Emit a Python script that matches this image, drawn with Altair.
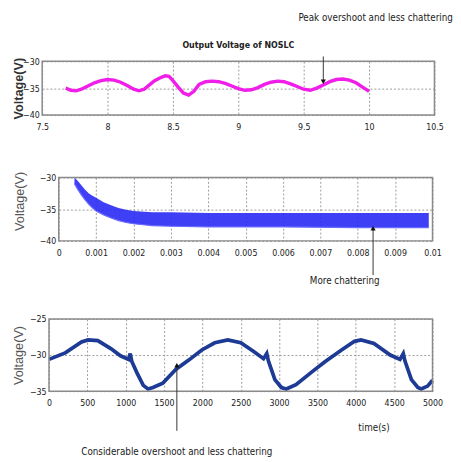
import altair as alt
import pandas as pd

FONT_N = "Liberation Sans Narrow, Arial Narrow, DejaVu Sans Condensed, sans-serif"
FONT_R = "Liberation Sans, Arial, sans-serif"

# ---------------- Panel 1: Output Voltage of NOSLC ----------------
p1_t = [7.68, 7.72, 7.76, 7.80, 7.85, 7.90, 7.95, 8.00, 8.05, 8.10, 8.15, 8.20, 8.24,
        8.28, 8.32, 8.36, 8.40, 8.44, 8.47, 8.50, 8.54, 8.58, 8.62, 8.66, 8.70, 8.75,
        8.80, 8.85, 8.90, 8.95, 9.00, 9.05, 9.10, 9.15, 9.20, 9.25, 9.30, 9.35, 9.40,
        9.45, 9.50, 9.55, 9.60, 9.65, 9.70, 9.75, 9.80, 9.85, 9.90, 9.95, 10.0]
p1_v = [-35.0, -35.4, -35.5, -35.2, -34.6, -34.0, -33.6, -33.4, -33.5, -33.9, -34.5,
        -35.2, -35.5, -35.2, -34.4, -33.6, -33.1, -32.7, -32.8, -33.6, -34.8, -35.9,
        -36.3, -35.6, -34.3, -33.8, -33.7, -33.8, -34.1, -34.6, -35.1, -35.4, -35.3,
        -34.9, -34.3, -33.9, -33.7, -33.8, -34.2, -34.7, -35.2, -35.4, -35.0, -34.4,
        -33.8, -33.4, -33.3, -33.5, -34.0, -34.8, -35.6]
p1_xdom, p1_ydom = [7.5, 10.5], [-40, -30]
p1_xticks = [7.5, 8, 8.5, 9, 9.5, 10, 10.5]
p1_yticks = [-40, -35, -30]
p1_title = ["Output Voltage of NOSLC"]
p1_title_t, p1_title_v = [9.0], [-26.9]
p1_note = ["Peak overshoot and less chattering"]
p1_note_t, p1_note_v = [10.05], [-22.0]
p1_arrow_t, p1_arrow_v1, p1_arrow_v2 = [9.65], [-29.1], [-33.8]

# ---------------- Panel 2: chattering band (envelope) ----------------
p2_t = [0.00042, 0.0005, 0.0006, 0.0007, 0.0008, 0.0009, 0.001, 0.0012, 0.0014, 0.0016,
        0.0018, 0.002, 0.0025, 0.003, 0.004, 0.006, 0.008, 0.0099]
p2_upper = [-30.0, -30.5, -31.2, -31.9, -32.5, -32.9, -33.2, -33.9, -34.4, -34.8, -35.1,
            -35.3, -35.5, -35.5, -35.6, -35.6, -35.6, -35.6]
p2_lower = [-31.0, -31.8, -32.7, -33.5, -34.2, -34.8, -35.3, -35.9, -36.4, -36.8, -37.1,
            -37.3, -37.6, -37.7, -37.8, -37.8, -37.9, -37.9]
p2_xdom, p2_ydom = [0, 0.01], [-40, -30]
p2_xticks = [0, 0.001, 0.002, 0.003, 0.004, 0.005, 0.006, 0.007, 0.008, 0.009, 0.01]
p2_yticks = [-40, -35, -30]
p2_note = ["More chattering"]
p2_note_t, p2_note_v = [0.00765], [-46.3]
p2_arrow_t, p2_arrow_v1, p2_arrow_v2 = [0.00841], [-45.4], [-38.0]

# ---------------- Panel 3 ----------------
p3_t = [0, 212, 424, 509, 636, 806, 932, 1038, 1059, 1080, 1144, 1229, 1292, 1356, 1483,
        1653, 1822, 1992, 2161, 2331, 2500, 2669, 2797, 2839, 2860, 2945, 3030, 3093,
        3220, 3432, 3602, 3814, 3983, 4068, 4237, 4449, 4576, 4619, 4640, 4725, 4809,
        4852, 4936, 5000]
p3_v = [-30.6, -29.7, -28.2, -27.9, -28.0, -29.1, -30.1, -30.6, -29.8, -30.9, -32.4,
        -34.2, -34.7, -34.5, -33.9, -32.0, -30.7, -29.3, -28.3, -27.9, -28.3, -29.5,
        -30.5, -29.8, -30.8, -33.4, -34.5, -34.7, -34.1, -32.3, -30.9, -29.3, -28.1,
        -27.9, -28.4, -30.0, -30.6, -29.8, -30.8, -33.4, -34.5, -34.7, -34.3, -33.5]
p3_xdom, p3_ydom = [0, 5000], [-35, -25]
p3_xticks = [0, 500, 1000, 1500, 2000, 2500, 3000, 3500, 4000, 4500, 5000]
p3_yticks = [-35, -30, -25]
p3_note = ["Considerable overshoot and less chattering"]
p3_note_t, p3_note_v = [1667], [-43.5]
p3_xlabel = ["time(s)"]
p3_xlabel_t, p3_xlabel_v = [4237], [-40.1]
p3_arrow_t, p3_arrow_v1, p3_arrow_v2 = [1667], [-40.5], [-31.4]

GRID = "#9a9a9a"
FRAME = "#8a8a8a"


def xaxis(values, fmt):
    return alt.Axis(values=values, tickCount=len(values), format=fmt, title=None,
                    ticks=False, domain=False,
                    labelFont=FONT_N, labelFontSize=9, labelColor="#222",
                    labelPadding=8, grid=True, gridDash=[2, 2], gridColor=GRID,
                    labelFlush=False, labelOverlap=False)


def yaxis(values, title, tx, bold, color, ty=None, offset=0):
    kw = dict(values=values, tickCount=len(values), title=title, ticks=False,
              domain=False,
              labelFont=FONT_N, labelFontSize=9, labelColor="#222", labelPadding=3,
              grid=True, gridDash=[2, 2], gridColor=GRID,
              titleFont=FONT_R, titleFontSize=13,
              titleFontWeight="bold" if bold else "normal", titleColor=color,
              titleX=tx, titleBaseline="middle", titleAngle=270, labelFlush=False,
              labelOverlap=False, offset=offset)
    if ty is not None:
        kw["titleY"] = ty
    return alt.Axis(**kw)


def annot(t, v, text, size=10, color="#222", weight="normal"):
    df = pd.DataFrame({"t": t, "v": v, "label": text})
    return alt.Chart(df).mark_text(font=FONT_N, fontSize=size, color=color,
                                   fontWeight=weight).encode(
        x="t:Q", y="v:Q", text="label:N")


def arrow(t, v1, v2, head):
    df = pd.DataFrame({"t": t, "v": v1, "v2": v2})
    rule = alt.Chart(df).mark_rule(color="#333", strokeWidth=1).encode(
        x="t:Q", y="v:Q", y2="v2:Q")
    tip = alt.Chart(df).mark_point(shape=head, filled=True, size=28, color="#111",
                                   opacity=1).encode(x="t:Q", y="v2:Q")
    return rule + tip


def frame(xdom, ydom):
    df = pd.DataFrame({"t": [xdom[0]], "t2": [xdom[1]], "v": [ydom[0]], "v2": [ydom[1]]})
    return alt.Chart(df).mark_rect(fillOpacity=0, stroke=FRAME, strokeWidth=1.5).encode(
        x="t:Q", x2="t2:Q", y="v:Q", y2="v2:Q")


# Panel 1
df1 = pd.DataFrame({"t": p1_t, "v": p1_v})
x1 = alt.X("t:Q", scale=alt.Scale(domain=p1_xdom, nice=False, zero=False),
           axis=xaxis(p1_xticks, "~f"))
y1 = alt.Y("v:Q", scale=alt.Scale(domain=p1_ydom, nice=False, zero=False),
           axis=yaxis(p1_yticks, "Voltage(V)", -24, True, "#333"))
line1 = alt.Chart(df1).mark_line(color="#f01ee8", strokeWidth=3.5).encode(x=x1, y=y1)
panel1 = (line1 + frame(p1_xdom, p1_ydom)
          + annot(p1_title_t, p1_title_v, p1_title, size=9, weight="bold")
          + annot(p1_note_t, p1_note_v, p1_note)
          + arrow(p1_arrow_t, p1_arrow_v1, p1_arrow_v2, "triangle-down")).properties(
    width=402, height=55)

# Panel 2 (plot inset 17 px from the shared left edge)
df2 = pd.DataFrame({"t": p2_t, "v": p2_upper, "lo": p2_lower})
x2 = alt.X("t:Q", scale=alt.Scale(domain=p2_xdom, range=[17, 400], nice=False, zero=False),
           axis=xaxis(p2_xticks, "~f"))
y2 = alt.Y("v:Q", scale=alt.Scale(domain=p2_ydom, nice=False, zero=False),
           axis=yaxis(p2_yticks, "Voltage(V)", -40.5, False, "#555", 24, offset=-17))
band2 = alt.Chart(df2).mark_area(color="#2a2af4", opacity=0.9).encode(
    x=x2, y=y2, y2="lo:Q")
edge2 = alt.Chart(df2).mark_line(color="#6a6aff", strokeWidth=1.2).encode(
    x="t:Q", y="lo:Q")
# white dot above the panel: only reserves layout room, as in the reference
pad2 = annot([0.005], [-28.25], ["."], color="white")
panel2 = (band2 + edge2 + frame(p2_xdom, p2_ydom) + pad2
          + annot(p2_note_t, p2_note_v, p2_note)
          + arrow(p2_arrow_t, p2_arrow_v1, p2_arrow_v2, "triangle-up")
          ).properties(width=400, height=65)

# Panel 3 (plot inset 7 px)
df3 = pd.DataFrame({"t": p3_t, "v": p3_v})
x3 = alt.X("t:Q", scale=alt.Scale(domain=p3_xdom, range=[7, 400], nice=False, zero=False),
           axis=xaxis(p3_xticks, "d"))
y3 = alt.Y("v:Q", scale=alt.Scale(domain=p3_ydom, nice=False, zero=False),
           axis=yaxis(p3_yticks, "Voltage(V)", -31.5, False, "#555", offset=-7))
line3 = alt.Chart(df3).mark_line(color="#1d3a94", strokeWidth=3.8).encode(x=x3, y=y3)
panel3 = (line3 + frame(p3_xdom, p3_ydom)
          + annot(p3_note_t, p3_note_v, p3_note)
          + annot(p3_xlabel_t, p3_xlabel_v, p3_xlabel)
          + arrow(p3_arrow_t, p3_arrow_v1, p3_arrow_v2, "triangle-up")).properties(
    width=400, height=74)

chart = alt.vconcat(panel1, panel2, panel3, spacing=30).properties(
    padding={"left": 4, "top": 0, "right": 0, "bottom": 0},
    background="white",
).configure_view(strokeWidth=0)

chart.save("out.html", embed_options={"renderer": "svg", "actions": False})
